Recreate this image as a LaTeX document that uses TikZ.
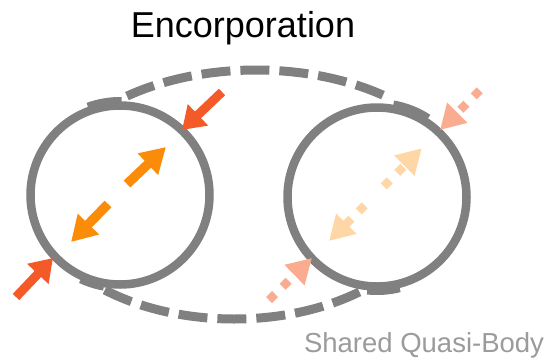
\documentclass[tikz,border=0pt]{standalone}
\usepackage{fontspec}
\setmainfont{Liberation Sans}
\usetikzlibrary{arrows.meta,calc}
\definecolor{ringgray}{RGB}{128,128,128}
\definecolor{labelgray}{RGB}{155,155,155}
\definecolor{pushred}{RGB}{244,90,40}
\definecolor{pushorange}{RGB}{250,140,10}
\definecolor{fadedred}{RGB}{250,172,145}
\definecolor{fadedorange}{RGB}{255,214,165}
\tikzset{
  ring/.style={draw=ringgray, line width=8.5pt},
  hull/.style={draw=ringgray, line width=9pt, dash pattern=on 29pt off 10pt},
  hulltab/.style={draw=ringgray, line width=8pt},
  solidarrow/.style={line width=9pt, -{Triangle[width=28pt,length=22pt]}},
  innerarrow/.style={line width=9.5pt, -{Triangle[width=28pt,length=25pt]}},
  dotarrow/.style={line width=8.5pt, dash pattern=on 8.5pt off 10.5pt, -{Triangle[width=27pt,length=24.5pt]}},
}
\begin{document}
\begin{tikzpicture}[x=1pt,y=-1pt]
\useasboundingbox (0,0) rectangle (549,360);

% centres of the two bodies and of the hull's upper and lower arcs
\coordinate (L) at (120,195);
\coordinate (R) at (377,197);
\coordinate (Etop) at (256,195);
\coordinate (Ebot) at (234,195);

% shared hull: dashed upper and lower arcs
\draw[hull] ($(Etop)+(-127.7:211 and 125)$) arc[start angle=-127.7, end angle=-52.3, x radius=211, y radius=125];
\draw[hull] ($(Ebot)+(130:201 and 124)$) arc[start angle=130, end angle=50, x radius=201, y radius=124];

% solid tabs where the hull joins the bodies
\draw[hulltab] ($(L)+(-110:94)$) arc[start angle=-110, end angle=-89, radius=94];
\draw[hulltab] ($(L)+(100:93)$) arc[start angle=100, end angle=115, radius=93];
\draw[hulltab] ($(R)+(-80:94)$) arc[start angle=-80, end angle=-57, radius=94];
\draw[hulltab] ($(R)+(76:94)$) arc[start angle=76, end angle=96, radius=94];

% the two bodies
\draw[ring] (L) circle[radius=89.5];
\draw[ring] (R) circle[radius=89.5];

% left body: inward push and outward expansion
\coordinate (a1) at (222,92);  \coordinate (a2) at (182,130);
\coordinate (b1) at (16,297);  \coordinate (b2) at (53,258);
\coordinate (c1) at (127,184); \coordinate (c2) at (166,147);
\coordinate (d1) at (108,204); \coordinate (d2) at (71,242);
\draw[solidarrow, pushred] (a1) -- (a2);
\draw[solidarrow, pushred] (b1) -- (b2);
\draw[innerarrow, pushorange] (c1) -- (c2);
\draw[innerarrow, pushorange] (d1) -- (d2);

% right body: the same forces, faded and dotted
\coordinate (e1) at (479.7,90.3); \coordinate (e2) at (440,130);
\coordinate (f1) at (269,300);    \coordinate (f2) at (312,258);
\coordinate (g1) at (383.7,186.3); \coordinate (g2) at (421.7,148.3);
\coordinate (h1) at (364.7,205.3); \coordinate (h2) at (329,241);
\draw[dotarrow, fadedred] (e1) -- (e2);
\draw[dotarrow, fadedred] (f1) -- (f2);
\draw[dotarrow, fadedorange] (g1) -- (g2);
\draw[dotarrow, fadedorange] (h1) -- (h2);

% labels
\node[anchor=base, inner sep=0pt, font=\fontsize{36}{40}\selectfont] (title) at (243,37) {Encorporation};
\node[anchor=base, inner sep=0pt, text=labelgray, font=\fontsize{27.5}{30}\selectfont] (hullname) at (424,352) {Shared Quasi-Body};
\end{tikzpicture}
\end{document}
